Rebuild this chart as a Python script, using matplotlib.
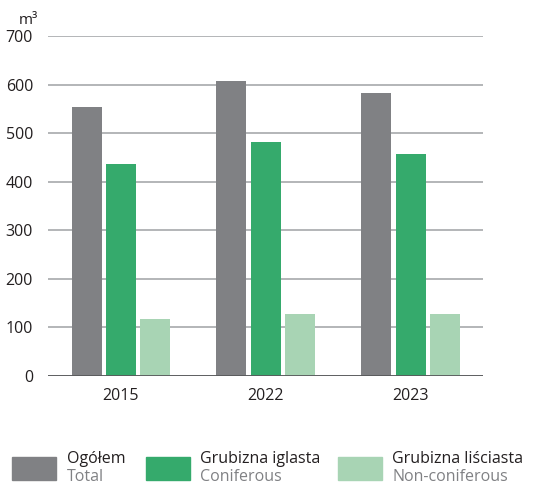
import matplotlib
matplotlib.use("Agg")
import matplotlib.pyplot as plt
from matplotlib.patches import Rectangle
import numpy as np

years = ['2015', '2022', '2023']
total = [553, 608, 582]
coniferous = [437, 481, 456]
non_coniferous = [117, 128, 127]

names_pl = ['Ogółem', 'Grubizna iglasta', 'Grubizna liściasta']
names_en = ['Total', 'Coniferous', 'Non-coniferous']
colors = ['#808184', '#35aa6c', '#a8d4b4']

plt.rcParams['font.family'] = ['Open Sans', 'DejaVu Sans']

W, H = 545, 484
fig = plt.figure(figsize=(W / 100, H / 100), dpi=100)
ax = fig.add_axes([48.3 / W, 1 - 375.7 / H, (483 - 48.3) / W, (375.7 - 36) / H])

x = np.arange(len(years))
width = 0.207
step = 0.236
for i, series in enumerate([total, coniferous, non_coniferous]):
    ax.bar(x + (i - 1) * step, series, width, color=colors[i], zorder=3)

ax.set_xlim(-0.5, 2.5)
ax.set_ylim(0, 700)
ax.set_yticks(range(0, 701, 100))
ax.set_xticks(x)
ax.set_xticklabels(years)
ax.yaxis.grid(True, color='#a7a9ac', linewidth=1.2, zorder=0)
ax.axhline(0, color='#58595b', linewidth=1.3, zorder=4)
for s in ax.spines.values():
    s.set_visible(False)
ax.tick_params(length=0, labelsize=11.5, colors='#231f20')
ax.tick_params(axis='y', pad=11)
ax.tick_params(axis='x', pad=9)

fig.text(19 / W, 1 - 20 / H, 'm³', fontsize=11, color='#231f20', va='center')

# legend drawn by hand
patch_x = [11.7, 145.7, 337.7]
text_x = [66.7, 200, 392.3]
for i in range(3):
    fig.patches.append(Rectangle((patch_x[i] / W, 1 - 480 / H), 44 / W, 23 / H,
                                 transform=fig.transFigure, color=colors[i]))
    fig.text(text_x[i] / W, 1 - 459 / H, names_pl[i], fontsize=11.5, color='#231f20', va='center')
    fig.text(text_x[i] / W, 1 - 477 / H, names_en[i], fontsize=11.5, color='#808184', va='center')

fig.savefig('out.png', dpi=100)
